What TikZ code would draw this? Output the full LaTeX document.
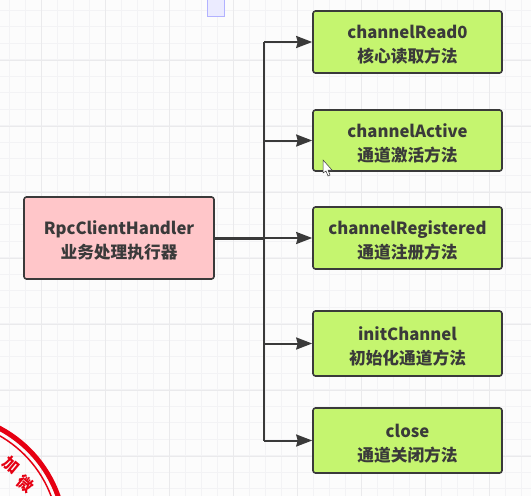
\documentclass[tikz,border=0pt]{standalone}
\usepackage{fontspec}
\setmainfont{Noto Sans CJK SC}
\usetikzlibrary{arrows.meta}
\definecolor{inkgray}{HTML}{3A3A3A}
\definecolor{readgreen}{HTML}{C5F56F}
\definecolor{handlerpink}{HTML}{FFC6C9}
\definecolor{gridgray}{HTML}{F3F3F5}
\definecolor{gridmajor}{HTML}{EAEAEC}
\definecolor{stampred}{HTML}{E60012}

\begin{document}
\begin{tikzpicture}[x=1pt, y=-1pt]
	\useasboundingbox (0,0) rectangle (531,496);
	\fill[white!98!gray] (0,0) rectangle (531,496);
	% background grid
	\foreach \gx in {9,25,...,530}
		\draw[gridgray, line width=0.7pt] (\gx,0) -- (\gx,496);
	\foreach \gy in {10,26.5,...,495}
		\draw[gridgray, line width=0.7pt] (0,\gy) -- (531,\gy);
	\foreach \gx in {41,105,...,530}
		\draw[gridmajor, line width=0.8pt] (\gx,0) -- (\gx,496);
	\foreach \gy in {60,126,...,495}
		\draw[gridmajor, line width=0.8pt] (0,\gy) -- (531,\gy);
	\draw[blue!30, fill=blue!8, line width=0.6pt] (207,-2) rectangle (224,16);
	% stamp in the corner
	\draw[stampred, line width=5pt] (-58,537) circle (123);
	\draw[stampred, line width=1.5pt] (-58,537) circle (116.5);
	\node[rotate=-40, inner sep=0pt, text=stampred, font=\bfseries\fontsize{16}{16}\selectfont] (stampA) at (11,465) {加};
	\node[rotate=-40, inner sep=0pt, text=stampred, font=\bfseries\fontsize{16}{16}\selectfont] (stampB) at (26,484) {微};
	\begin{scope}[every node/.style = {draw=inkgray, line width=1.6pt, rounded corners=2.5pt, align=center,
			text=inkgray, font=\bfseries\fontsize{16.7}{24}\selectfont, inner sep=0pt,
			text height=45pt, text depth=4pt}]
		\node[fill=handlerpink, minimum width=190, minimum height=82] (handler) at (119,238) {RpcClientHandler\\业务处理执行器};
		\node[fill=readgreen, minimum width=189, minimum height=62] (read) at (407.5,42) {channelRead0\\核心读取方法};
		\node[fill=readgreen, minimum width=189, minimum height=61] (active) at (407.5,140.5) {channelActive\\通道激活方法};
		\node[fill=readgreen, minimum width=189, minimum height=62] (registered) at (407.5,238) {channelRegistered\\通道注册方法};
		\node[fill=readgreen, minimum width=189, minimum height=65] (init) at (407.5,343.5) {initChannel\\初始化通道方法};
		\node[fill=readgreen, minimum width=189, minimum height=65] (close) at (407.5,440.5) {close\\通道关闭方法};
	\end{scope}
	\coordinate (J1) at (264,42);
	\coordinate (J2) at (264,140.5);
	\coordinate (J3) at (264,238);
	\coordinate (J4) at (264,343.5);
	\coordinate (J5) at (264,440.5);
	\begin{scope}[every edge/.style={draw=inkgray, line width=2pt}]
		\path [-] (J1) edge (J5);
		\path [-{Stealth[length=16pt, width=12pt, inset=1.5pt]}] (J1) edge (read);
		\path [-{Stealth[length=16pt, width=12pt, inset=1.5pt]}] (J2) edge (active);
		\path [-{Stealth[length=16pt, width=12pt, inset=1.5pt]}] (J3) edge (registered);
		\path [-{Stealth[length=16pt, width=12pt, inset=1.5pt]}] (J4) edge (init);
		\path [-{Stealth[length=16pt, width=12pt, inset=1.5pt]}] (J5) edge (close);
	\end{scope}
	\draw[inkgray, line width=3pt] (handler) -- (J3);
	% mouse cursor
	\draw[inkgray, fill=white, line width=0.5pt] (323,160) -- (323,173) -- (326,171) -- (328,176) -- (330,175) -- (328,170) -- (332,170) -- cycle;
\end{tikzpicture}
\end{document}
